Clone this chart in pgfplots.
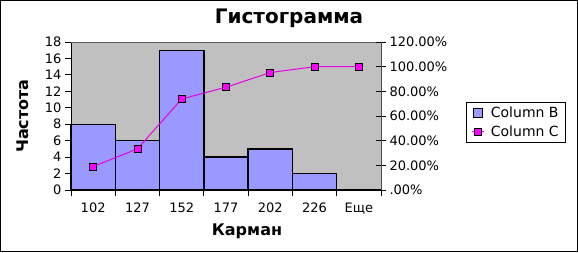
\documentclass[border=0pt]{standalone}
\usepackage{pgfplots}
\pgfplotsset{compat=1.18}
\usepackage{fontspec}
\setmainfont{DejaVu Sans}
\definecolor{barblue}{RGB}{153,153,255}
\definecolor{plotgray}{RGB}{192,192,192}
\definecolor{mag}{RGB}{255,0,255}
\definecolor{linemag}{RGB}{230,0,230}
\begin{document}
\begin{tikzpicture}[x=1bp,y=1bp]
\useasboundingbox (0,0) rectangle (578,252);
\fill[white] (0,0) rectangle (578,252);
\draw[black, line width=1bp] (0.5,0.5) rectangle (577.5,251.5);
\begin{axis}[
  scale only axis, width=310bp, height=148bp,
  at={(71bp,62bp)}, anchor=south west,
  xmin=-0.5, xmax=6.5, ymin=0, ymax=18,
  axis x line*=bottom, axis y line*=left,
  axis line style={black, line width=0.8bp},
  axis background/.style={fill=plotgray},
  xtick={0,1,2,3,4,5,6},
  xticklabels={102,127,152,177,202,226,Еще},
  minor xtick={-0.5,0.5,1.5,2.5,3.5,4.5,5.5,6.5},
  major x tick style={draw=none},
  minor x tick style={black, line width=0.8bp},
  minor tick length=6bp,
  ytick={0,2,...,18},
  major tick length=6bp,
  tick align=outside,
  tick style={black, line width=0.8bp},
  ticklabel style={font=\fontsize{13bp}{15bp}\selectfont},
  xticklabel style={yshift=-3bp},
  /pgf/number format/assume math mode=true,
  clip=false,
]
\addplot[ybar, bar width=1, fill=barblue, draw=black, line width=1.3bp]
  coordinates {(0,8) (1,6) (2,17) (3,4) (4,5) (5,2) (6,0)};
\draw[gray!70!black, line width=0.8bp] (rel axis cs:0,1) -- (rel axis cs:1,1);
\end{axis}
\begin{axis}[
  scale only axis, width=310bp, height=148bp,
  at={(71bp,62bp)}, anchor=south west,
  xmin=-0.5, xmax=6.5, ymin=0, ymax=1.2,
  axis x line=none, axis y line*=right,
  axis line style={black!70, line width=0.8bp},
  ytick={0,0.2,0.4,0.6,0.8,1.0,1.2},
  yticklabels={.00\%,20.00\%,40.00\%,60.00\%,80.00\%,100.00\%,120.00\%},
  tick align=center, major tick length=10bp,
  tick style={black, line width=0.8bp},
  ticklabel style={font=\fontsize{13bp}{15bp}\selectfont},
  clip=false,
  legend style={at={(1.2742,0.595)}, anchor=north west, draw=black, line width=0.8bp, fill=white,
    font=\fontsize{14bp}{16bp}\selectfont, inner xsep=5bp, inner ysep=3bp, row sep=2bp},
  legend cell align=left,
]
\addlegendimage{legend image code/.code={
  \path[draw=none, fill=none] (0bp,-5bp) rectangle (16bp,5bp);
  \draw[fill=barblue, draw=black, line width=0.8bp] (0bp,-4.5bp) rectangle (9bp,4.5bp);}}
\addlegendentry{Column B}
\addplot[linemag, line width=1bp, mark=square*, mark size=3.5bp,
  mark options={fill=mag, draw=black, line width=0.8bp},
  legend image code/.code={
  \path[draw=none, fill=none] (0bp,-5bp) rectangle (16bp,5bp);
  \draw[linemag, line width=1bp] (-1bp,0bp) -- (11bp,0bp);
  \draw[fill=mag, draw=black, line width=0.8bp] (1.5bp,-3.5bp) rectangle (8.5bp,3.5bp);}]
  coordinates {(0,0.1905) (1,0.3333) (2,0.7381) (3,0.8333) (4,0.9524) (5,1.0) (6,1.0)};
\addlegendentry{Column C}
\end{axis}
\node[font=\fontsize{20bp}{24bp}\selectfont\bfseries] at (289,234) {Гистограмма};
\node[font=\fontsize{16bp}{19bp}\selectfont\bfseries, rotate=90] at (23,136) {Частота};
\node[font=\fontsize{16bp}{19bp}\selectfont\bfseries] at (247,21) {Карман};
\end{tikzpicture}
\end{document}
